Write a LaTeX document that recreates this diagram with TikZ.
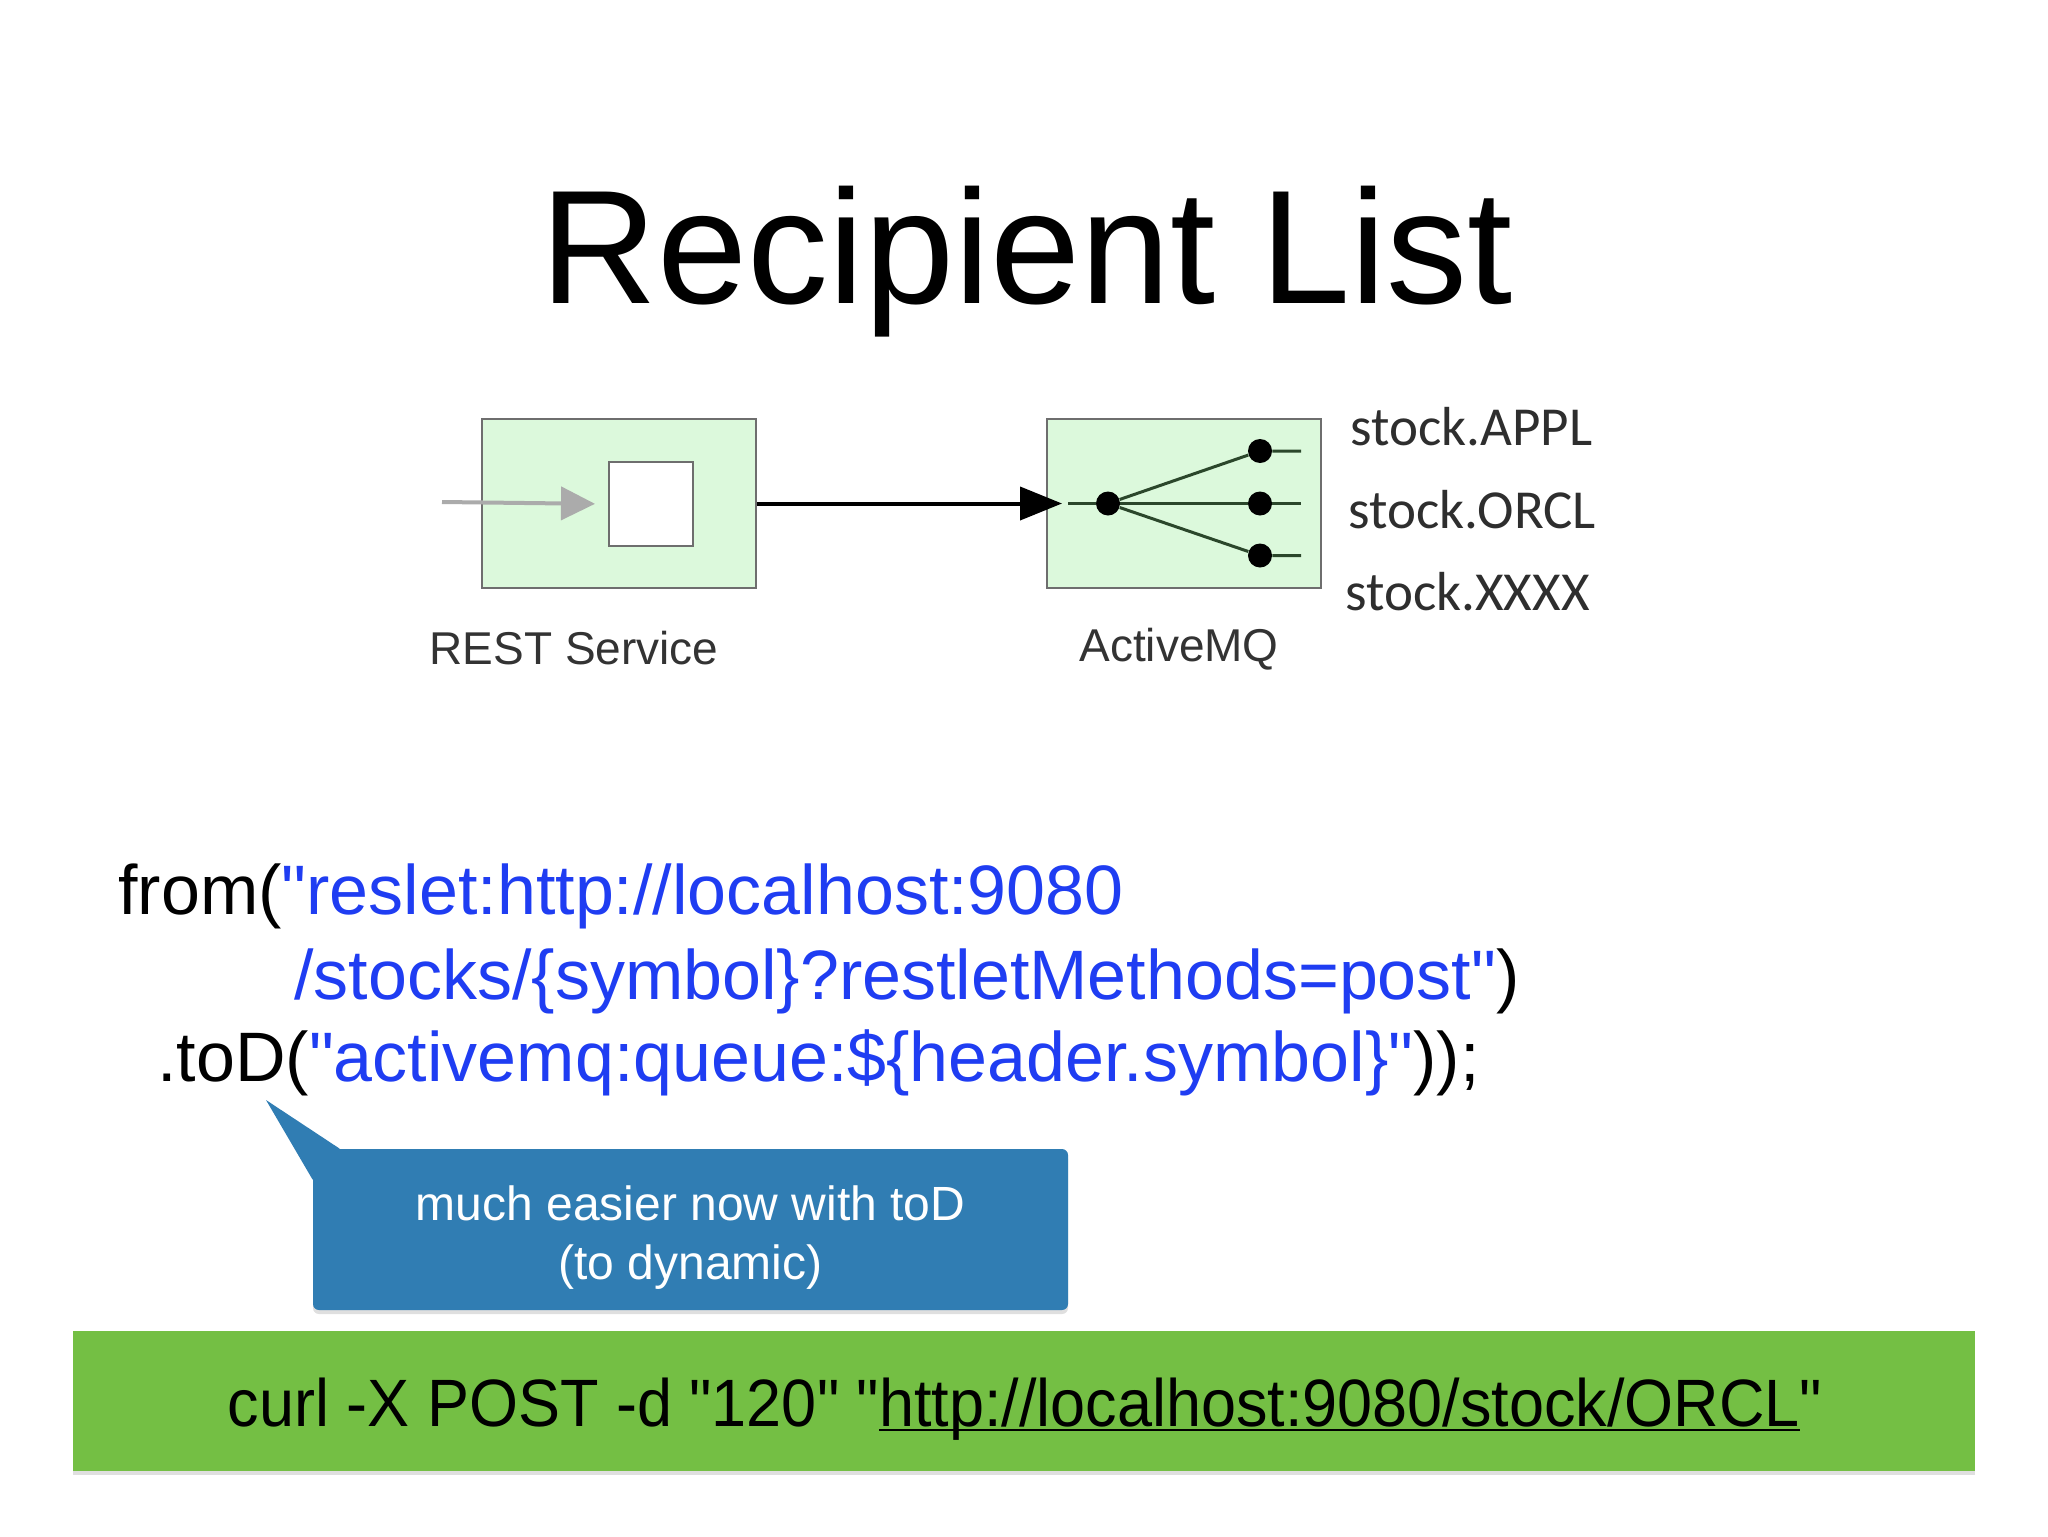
\documentclass[tikz,border=0pt]{standalone}
\usepackage{fontspec}
\setmainfont{Liberation Sans}[Ligatures=TeXOff]
\newfontfamily\calib{Carlito}
\usetikzlibrary{arrows.meta,positioning,shadows}
\definecolor{boxgreen}{HTML}{DCF9DC}
\definecolor{boxline}{HTML}{6E6E6E}
\definecolor{wire}{HTML}{2B472B}
\definecolor{codeblue}{HTML}{1F3DF2}
\definecolor{tipblue}{HTML}{307DB3}
\definecolor{bargreen}{HTML}{74BF44}
\newcommand\blu[1]{\textcolor{codeblue}{#1}}
\newcommand\ulink[1]{\setbox0\hbox{#1}\rlap{\rule[-2.6pt]{\wd0}{1.1pt}}\box0}

\begin{document}
\begin{tikzpicture}[x=0.5pt,y=-0.5pt,>=Stealth,
 eipbox/.style={draw=boxline,line width=1pt,fill=boxgreen,minimum width=137pt,minimum height=84.5pt,inner sep=0pt},
 dot/.style={circle,fill=black,minimum size=12pt,inner sep=0pt},
 lbl/.style={anchor=base,font=\fontsize{23}{27}\selectfont,text=black!80},
 queue/.style={anchor=base west,inner sep=0pt,font=\calib\fontsize{27.5}{32}\selectfont,text=black!82},
 code/.style={anchor=base west,inner sep=0pt,font=\fontsize{35}{42}\selectfont},
 note/.style={fill=tipblue,rounded corners=3pt,minimum width=377.5pt,minimum height=80.5pt,
   drop shadow={opacity=0.25,shadow xshift=0pt,shadow yshift=-2pt}}]
\useasboundingbox (0,0) rectangle (2048,1536);

% title
\node[anchor=base,font=\fontsize{81}{97}\selectfont] (title) at (1027,303) {Recipient List};

% recipient list diagram
\node[eipbox] (rest) at (619,503.5) {};
\node[draw=boxline,line width=1pt,fill=white,minimum width=42pt,minimum height=42pt,inner sep=0pt] (endpoint) at (651,504) {};
\coordinate (restin) at (442,502);
\draw[-{Triangle[length=17pt,width=16.5pt]},line width=2pt,black!33,shorten >=6.5pt] (restin) -- (endpoint.west);
\node[eipbox] (mq) at (1184,503.5) {};
\draw[-{Triangle[length=21pt,width=16.5pt]},line width=2pt,shorten >=-8pt] (rest.east) -- (mq.west);
\node[dot] (hub) at (1108,503.5) {};
\coordinate (mqin) at (1068,503.5);
\draw[wire,line width=1.5pt] (mqin) -- (hub);
\foreach \q/\y in {q1/451,q2/503.5,q3/555.5} {
  \node[dot] (\q) at (1260,\y) {};
  \coordinate (\q out) at (1301,\y);
  \draw[wire,line width=1.5pt] (hub) -- (\q) -- (\q out);
}
\node[lbl] (restlbl) at (574,664) {REST Service};
\node[lbl] (mqlbl) at (1179,661) {ActiveMQ};
\node[queue] (appl) at (1350,445) {stock.APPL};
\node[queue] (orcl) at (1348,528) {stock.ORCL};
\node[queue] (xxxx) at (1345,610) {stock.XXXX};

% route code
\node[code] (from) at (118,914) {from(\blu{"reslet:http://localhost:9080}};
\node[code] (path) at (294,999) {\blu{/stocks/\{symbol\}?restletMethods=post"})};
\node[code] (tod) at (157,1081) {.toD(\blu{"activemq:queue:\$\{header.symbol\}"}));};

% callout
\coordinate (tip) at (266,1100);
\node[note] (hint) at (690.5,1229.5) {};
\fill[tipblue] (tip) -- ([xshift=13.5pt]hint.north west) -- ([yshift=-15.5pt]hint.north west) -- cycle;
\node[text=white,align=center,font=\fontsize{24}{29.5}\selectfont] (hinttxt) at (690.5,1238)
  {much easier now with toD\\(to dynamic)};

% curl command
\node[fill=bargreen,minimum width=951pt,minimum height=70pt,inner sep=0pt,
  drop shadow={opacity=0.25,shadow xshift=0pt,shadow yshift=-2pt}] (curl) at (1024,1401) {};
\node[anchor=base,inner sep=0pt,font=\fontsize{33.5}{40}\selectfont] (cmd) at (1025,1426)
  {\scalebox{0.94}[1]{curl -X POST -d "120" "\ulink{http://localhost:9080/stock/ORCL}"}};
\end{tikzpicture}
\end{document}
